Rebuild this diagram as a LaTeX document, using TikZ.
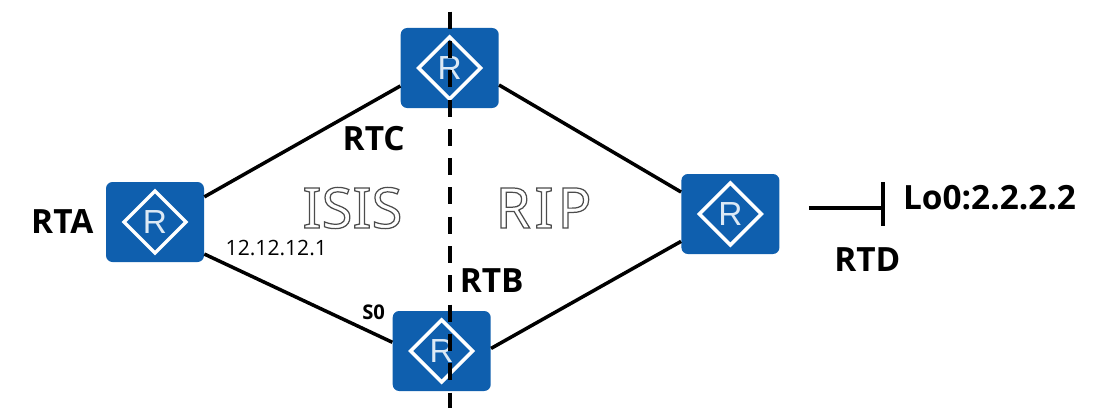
\documentclass[tikz,border=0pt]{standalone}
\usepackage{fontspec}
\setmainfont{Open Sans}
\newfontfamily\zonefont{Noto Sans}
\newfontfamily\routerfont{Liberation Sans}
\usetikzlibrary{positioning}
\definecolor{routerblue}{HTML}{0F5FAE}
\definecolor{routerlight}{HTML}{DCE9F5}
\newcommand{\hollowtext}[1]{\special{pdf:code 1 Tr 0.7 w 0.3 G}#1\special{pdf:code 0 Tr 0.6 w 0 G}}

\begin{document}
\begin{tikzpicture}[
    router/.style={rounded corners=0.13cm, fill=routerblue, minimum width=1.96cm, minimum height=1.6cm,
      inner sep=0pt, text=routerlight, font=\routerfont\fontsize{19}{19}\selectfont,
      path picture={\draw[white, line width=0.07cm, sharp corners, line join=miter]
        ([xshift=-0.62cm]path picture bounding box.center) -- ([yshift=0.62cm]path picture bounding box.center)
        -- ([xshift=0.62cm]path picture bounding box.center) -- ([yshift=-0.62cm]path picture bounding box.center) -- cycle;}},
    link/.style={line width=0.07cm},
    bigtag/.style={font=\bfseries\fontsize{19}{19}\selectfont, inner sep=0pt},
    smalltag/.style={font=\fontsize{12}{12}\selectfont, inner sep=0pt},
    zone/.style={font=\zonefont\fontsize{32}{32}\selectfont, inner sep=0pt}]
    \useasboundingbox (0,0) rectangle (21.96,8.16);
    \node[router] (rta) at (3.1,3.72) {R};
    \node[router, right=3.92cm of rta, yshift=3.08cm] (rtc) {R};
    \node[router, right=3.76cm of rta, yshift=-2.58cm] (rtb) {R};
    \node[router, right=3.64cm of rtc, yshift=-2.92cm] (rtd) {R};
    \draw[link] (rtc.200) -- (rta.27);
    \draw[link] (rta.-33) -- (rtb.170);
    \draw[link] (rtc.-19) -- (rtd.156);
    \draw[link] (rtb.3) -- (rtd.209);
    % area border
    \coordinate[above=0.32cm of rtc] (bordertop);
    \coordinate[below=6cm of rtc] (borderbot);
    \draw[line width=0.08cm, dash pattern=on 0.34cm off 0.246cm] (bordertop) -- (borderbot);
    % loopback
    \coordinate[right=0.58cm of rtd, yshift=0.12cm] (stub);
    \coordinate[right=1.48cm of stub] (lo);
    \coordinate[above=0.52cm of lo] (lotop);
    \coordinate[below=0.36cm of lo] (lobot);
    \draw[link] (stub) -- (lo);
    \draw[link] (lotop) -- (lobot);
    \node[bigtag, left=0.24cm of rta] (rtatag) {RTA};
    \node[bigtag, below=0.36cm of rtc, xshift=-1.52cm] (rtctag) {RTC};
    \node[bigtag, above=0.36cm of rtb, xshift=1cm] (rtbtag) {RTB};
    \node[bigtag, below=-0.14cm of rtd, xshift=2.74cm] (rtdtag) {RTD};
    \node[bigtag, right=0.4cm of lo, yshift=0.2cm] (lotag) {Lo0:2.2.2.2};
    \node[smalltag, right=0.42cm of rta, yshift=-0.52cm] (iptag) {12.12.12.1};
    \node[smalltag, font=\bfseries\fontsize{11.5}{12}\selectfont, left=0.14cm of rtb, yshift=0.78cm] (s0tag) {S0};
    \node[zone] (isis) at (7.05,4) {\hollowtext{ISIS}};
    \node[zone, right=1.85cm of isis] (rip) {\addfontfeature{LetterSpace=7}\hollowtext{RIP}};
  \end{tikzpicture}
\end{document}
